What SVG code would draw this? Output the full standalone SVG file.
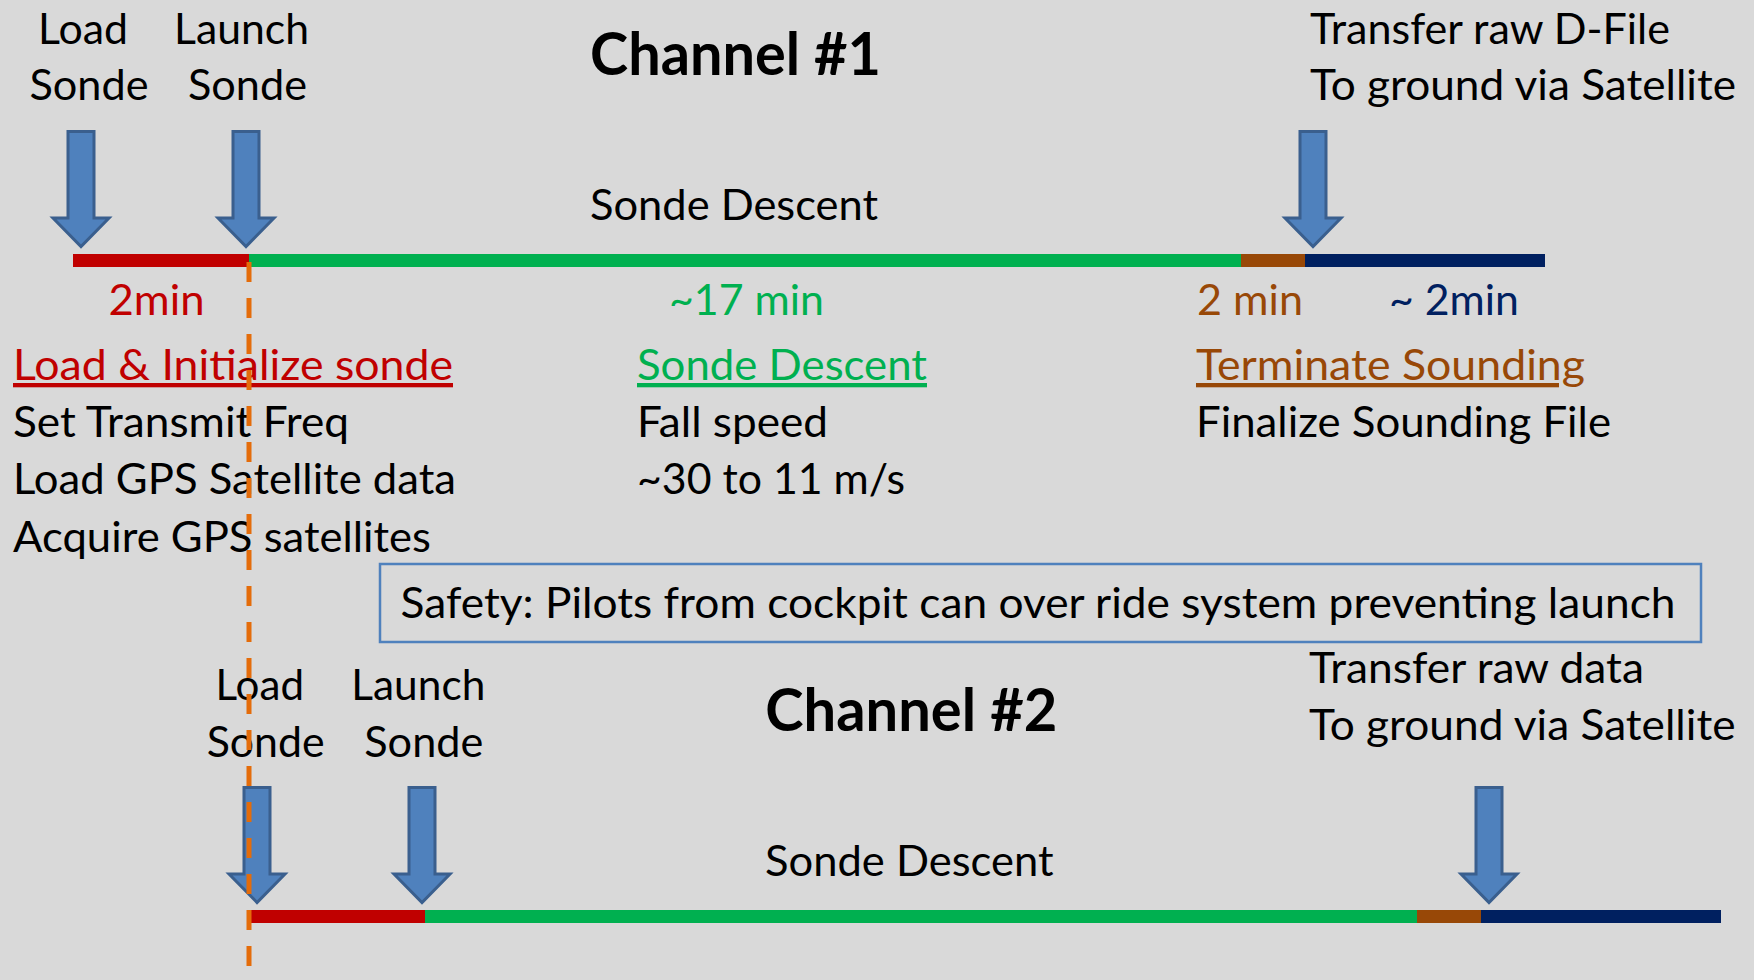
<svg xmlns="http://www.w3.org/2000/svg" width="1754" height="980" viewBox="0 0 1754 980">
<defs>
<style>
text{font-family:Lato,"Open Sans","Liberation Sans",sans-serif;font-size:43px;fill:#000}
.b{font-weight:bold;font-size:60px}
.red{fill:#C00000}.grn{fill:#00B050}.brn{fill:#984807}.nav{fill:#002060}
.ul{text-decoration:underline}
.arrow{fill:#4F81BD;stroke:#3A5F8E;stroke-width:3;stroke-linejoin:miter}
.bar{stroke-width:13;fill:none}
</style>
<path id="arr" d="M-13,1.5 H13 V88 H28 L0,116.5 L-28,88 H-13 Z"/>
</defs>
<rect x="0" y="0" width="1754" height="980" fill="#D9D9D9"/>

<g id="channel1">
<g id="ch1-bar">
<line class="bar" x1="73" y1="260.5" x2="249" y2="260.5" stroke="#C00000"/>
<line class="bar" x1="249" y1="260.5" x2="1241" y2="260.5" stroke="#00B050"/>
<line class="bar" x1="1241" y1="260.5" x2="1305" y2="260.5" stroke="#984807"/>
<line class="bar" x1="1305" y1="260.5" x2="1545" y2="260.5" stroke="#002060"/>
</g>
<g id="ch1-load-arrow"><use href="#arr" class="arrow" x="81" y="130"/></g>
<g id="ch1-launch-arrow"><use href="#arr" class="arrow" x="246" y="130"/></g>
<g id="ch1-transfer-arrow"><use href="#arr" class="arrow" x="1313" y="130"/></g>
<g id="ch1-load-label"><text x="38" y="44" textLength="90" lengthAdjust="spacingAndGlyphs">Load</text><text x="29.5" y="100" textLength="119" lengthAdjust="spacingAndGlyphs">Sonde</text></g>
<g id="ch1-launch-label"><text x="174" y="44" textLength="135" lengthAdjust="spacingAndGlyphs">Launch</text><text x="188" y="100" textLength="119" lengthAdjust="spacingAndGlyphs">Sonde</text></g>
<g id="ch1-title"><text class="b" x="590" y="75" textLength="291" lengthAdjust="spacingAndGlyphs">Channel #1</text></g>
<g id="ch1-descent"><text x="590" y="220" textLength="288" lengthAdjust="spacingAndGlyphs">Sonde Descent</text></g>
<g id="ch1-transfer-label"><text x="1310" y="44" textLength="360" lengthAdjust="spacingAndGlyphs">Transfer raw D-File</text><text x="1310" y="100" textLength="426" lengthAdjust="spacingAndGlyphs">To ground via Satellite</text></g>
<g id="durations">
<text class="red" x="108.5" y="315" textLength="96" lengthAdjust="spacingAndGlyphs">2min</text>
<text class="grn" x="669" y="315" textLength="155" lengthAdjust="spacingAndGlyphs">~17 min</text>
<text class="brn" x="1197" y="315" textLength="106" lengthAdjust="spacingAndGlyphs">2 min</text>
<text class="nav" x="1389" y="315" textLength="130" lengthAdjust="spacingAndGlyphs">~ 2min</text>
</g>
<g id="load-init">
<text class="red ul" x="13" y="380" textLength="440" lengthAdjust="spacingAndGlyphs">Load &amp; Initialize sonde</text>
<text x="13" y="436.7" textLength="336" lengthAdjust="spacingAndGlyphs">Set Transmit Freq</text>
<text x="13" y="494.3" textLength="443" lengthAdjust="spacingAndGlyphs">Load GPS Satellite data</text>
<text x="13" y="551.7" textLength="418" lengthAdjust="spacingAndGlyphs">Acquire GPS satellites</text>
</g>
<g id="descent-info">
<text class="grn ul" x="637" y="380" textLength="290" lengthAdjust="spacingAndGlyphs">Sonde Descent</text>
<text x="637" y="436.7" textLength="191" lengthAdjust="spacingAndGlyphs">Fall speed</text>
<text x="637" y="494.3" textLength="268" lengthAdjust="spacingAndGlyphs">~30 to 11 m/s</text>
</g>
<g id="terminate-info">
<text class="brn ul" x="1196" y="380" textLength="389" lengthAdjust="spacingAndGlyphs">Terminate Sounding</text>
<text x="1196" y="436.7" textLength="415" lengthAdjust="spacingAndGlyphs">Finalize Sounding File</text>
</g>
</g>

<g id="safety">
<rect x="380" y="564" width="1321" height="78" fill="none" stroke="#4F81BD" stroke-width="2.5"/>
<text x="400.5" y="618.3" textLength="1275" lengthAdjust="spacingAndGlyphs">Safety: Pilots from cockpit can over ride system preventing launch</text>
</g>

<g id="channel2">
<g id="ch2-bar">
<line class="bar" x1="249" y1="916.5" x2="425" y2="916.5" stroke="#C00000"/>
<line class="bar" x1="425" y1="916.5" x2="1417" y2="916.5" stroke="#00B050"/>
<line class="bar" x1="1417" y1="916.5" x2="1481" y2="916.5" stroke="#984807"/>
<line class="bar" x1="1481" y1="916.5" x2="1721" y2="916.5" stroke="#002060"/>
</g>
<g id="ch2-load-arrow"><use href="#arr" class="arrow" x="257" y="786"/></g>
<g id="ch2-launch-arrow"><use href="#arr" class="arrow" x="422" y="786"/></g>
<g id="ch2-transfer-arrow"><use href="#arr" class="arrow" x="1489" y="786"/></g>
<g id="ch2-load-label"><text x="215.5" y="700" textLength="88.5" lengthAdjust="spacingAndGlyphs">Load</text><text x="206.7" y="756.7" textLength="118" lengthAdjust="spacingAndGlyphs">Sonde</text></g>
<g id="ch2-launch-label"><text x="351.3" y="700" textLength="134" lengthAdjust="spacingAndGlyphs">Launch</text><text x="364.3" y="756.7" textLength="119" lengthAdjust="spacingAndGlyphs">Sonde</text></g>
<g id="ch2-title"><text class="b" x="765.3" y="730.7" textLength="292" lengthAdjust="spacingAndGlyphs">Channel #2</text></g>
<g id="ch2-descent"><text x="765" y="875.7" textLength="288.5" lengthAdjust="spacingAndGlyphs">Sonde Descent</text></g>
<g id="ch2-transfer-label"><text x="1309" y="683.3" textLength="335" lengthAdjust="spacingAndGlyphs">Transfer raw data</text><text x="1309" y="740" textLength="426.5" lengthAdjust="spacingAndGlyphs">To ground via Satellite</text></g>
</g>

<g id="connectors">
<line x1="249" y1="262" x2="249" y2="980" stroke="#E46C0A" stroke-width="5" stroke-dasharray="20 16"/>
</g>
</svg>
